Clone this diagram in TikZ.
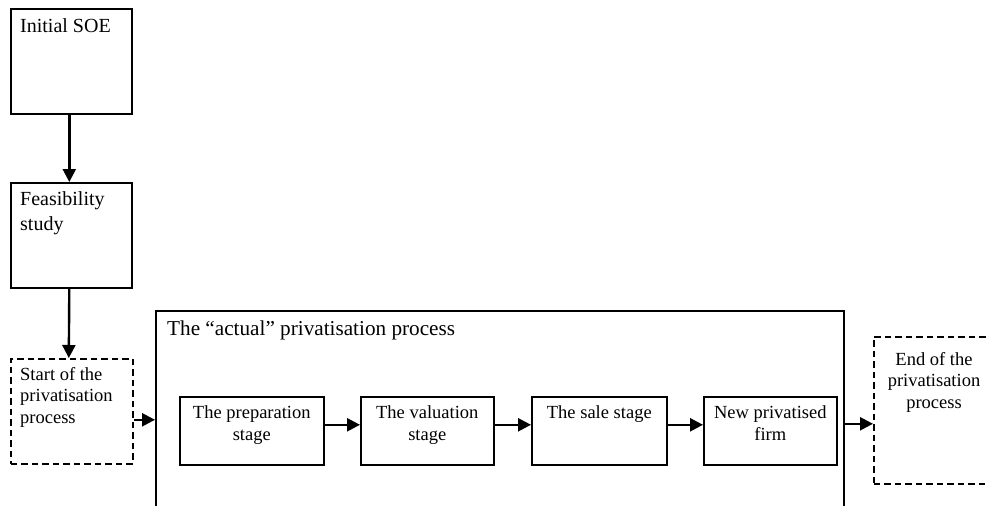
\documentclass[tikz,border=0pt]{standalone}
\usepackage{fontspec}
\setmainfont{Liberation Serif}
\usetikzlibrary{arrows.meta,calc}
\tikzset{
  box/.style={draw, line width=1.6pt, rectangle, inner sep=0pt, anchor=north west},
  dbox/.style={box, dash pattern=on 6.5pt off 4pt},
  conn/.style={line width=2.4pt, -{Triangle[length=13pt,width=13pt]}},
  bigtxt/.style={inner sep=0pt, font=\fontsize{20}{24.5}\selectfont, align=left},
  smltxt/.style={inner sep=0pt, font=\fontsize{18.5}{21.5}\selectfont},
}
\begin{document}
\begin{tikzpicture}[x=1pt,y=-1pt]
\useasboundingbox (0,0) rectangle (986,506);
\clip (0,0) rectangle (986,506);

% left column
\node[box, minimum width=121pt, minimum height=105pt] (soe) at (10,8) {};
\node[box, minimum width=121pt, minimum height=105pt] (feas) at (10,182) {};
\node[dbox, minimum width=122pt, minimum height=105pt] (start) at (10,358) {};

% container of the actual process (open at the bottom)
\node[box, minimum width=688pt, minimum height=230pt] (big) at (155,310) {};

% stages
\node[box, minimum width=144pt, minimum height=68pt] (prep) at (179,396) {};
\node[box, minimum width=133pt, minimum height=68pt] (val)  at (360,396) {};
\node[box, minimum width=135pt, minimum height=68pt] (sale) at (531,396) {};
\node[box, minimum width=133pt, minimum height=68pt] (newf) at (703,396) {};

% end box (runs past the right edge)
\node[dbox, minimum width=140pt, minimum height=147pt] (endb) at (873,336) {};

% texts (base anchor of a multi-line node sits on its last line)
\node[bigtxt, anchor=base west] (tsoe) at ($(soe.north west)+(10,24.5)$) {Initial SOE};
\node[bigtxt, anchor=base west] (tfeas) at ($(feas.north west)+(10,48)$) {Feasibility\\study};
\node[smltxt, align=left, anchor=base west] (tstart) at ($(start.north west)+(10,65)$) {Start of the\\privatisation\\process};
\node[bigtxt, font=\fontsize{21.2}{25}\selectfont, anchor=base west] (tbig) at ($(big.north west)+(12,25)$) {The “actual” privatisation process};
\node[smltxt, align=center, anchor=base] (tprep) at ($(prep.north)+(0,44)$) {The preparation\\stage};
\node[smltxt, align=center, anchor=base] (tval) at ($(val.north)+(0,44)$) {The valuation\\stage};
\node[smltxt, align=center, anchor=base] (tsale) at ($(sale.north)+(0,22)$) {The sale stage};
\node[smltxt, align=center, anchor=base] (tnewf) at ($(newf.north)+(0,44)$) {New privatised\\firm};
\node[smltxt, align=center, anchor=base] (tend) at ($(endb.north west)+(61,72)$) {End of the\\privatisation\\process};

% connectors
\draw[conn] ([xshift=-2pt]soe.south) -- ([xshift=-2pt]feas.north);
\draw[conn] ([xshift=-2pt]feas.south) -- ([xshift=-3pt]start.north);
\draw[conn] ([yshift=-8.5pt]start.east) -- ([yshift=-8.5pt]start.east -| big.west);
\draw[conn] ([yshift=6pt]prep.east) -- ([yshift=6pt]val.west);
\draw[conn] ([yshift=6pt]val.east) -- ([yshift=6pt]sale.west);
\draw[conn] ([yshift=6pt]sale.east) -- ([yshift=6pt]newf.west);
\draw[conn] ([yshift=-13.5pt]endb.west -| big.east) -- ([yshift=-13.5pt]endb.west);
\end{tikzpicture}
\end{document}
